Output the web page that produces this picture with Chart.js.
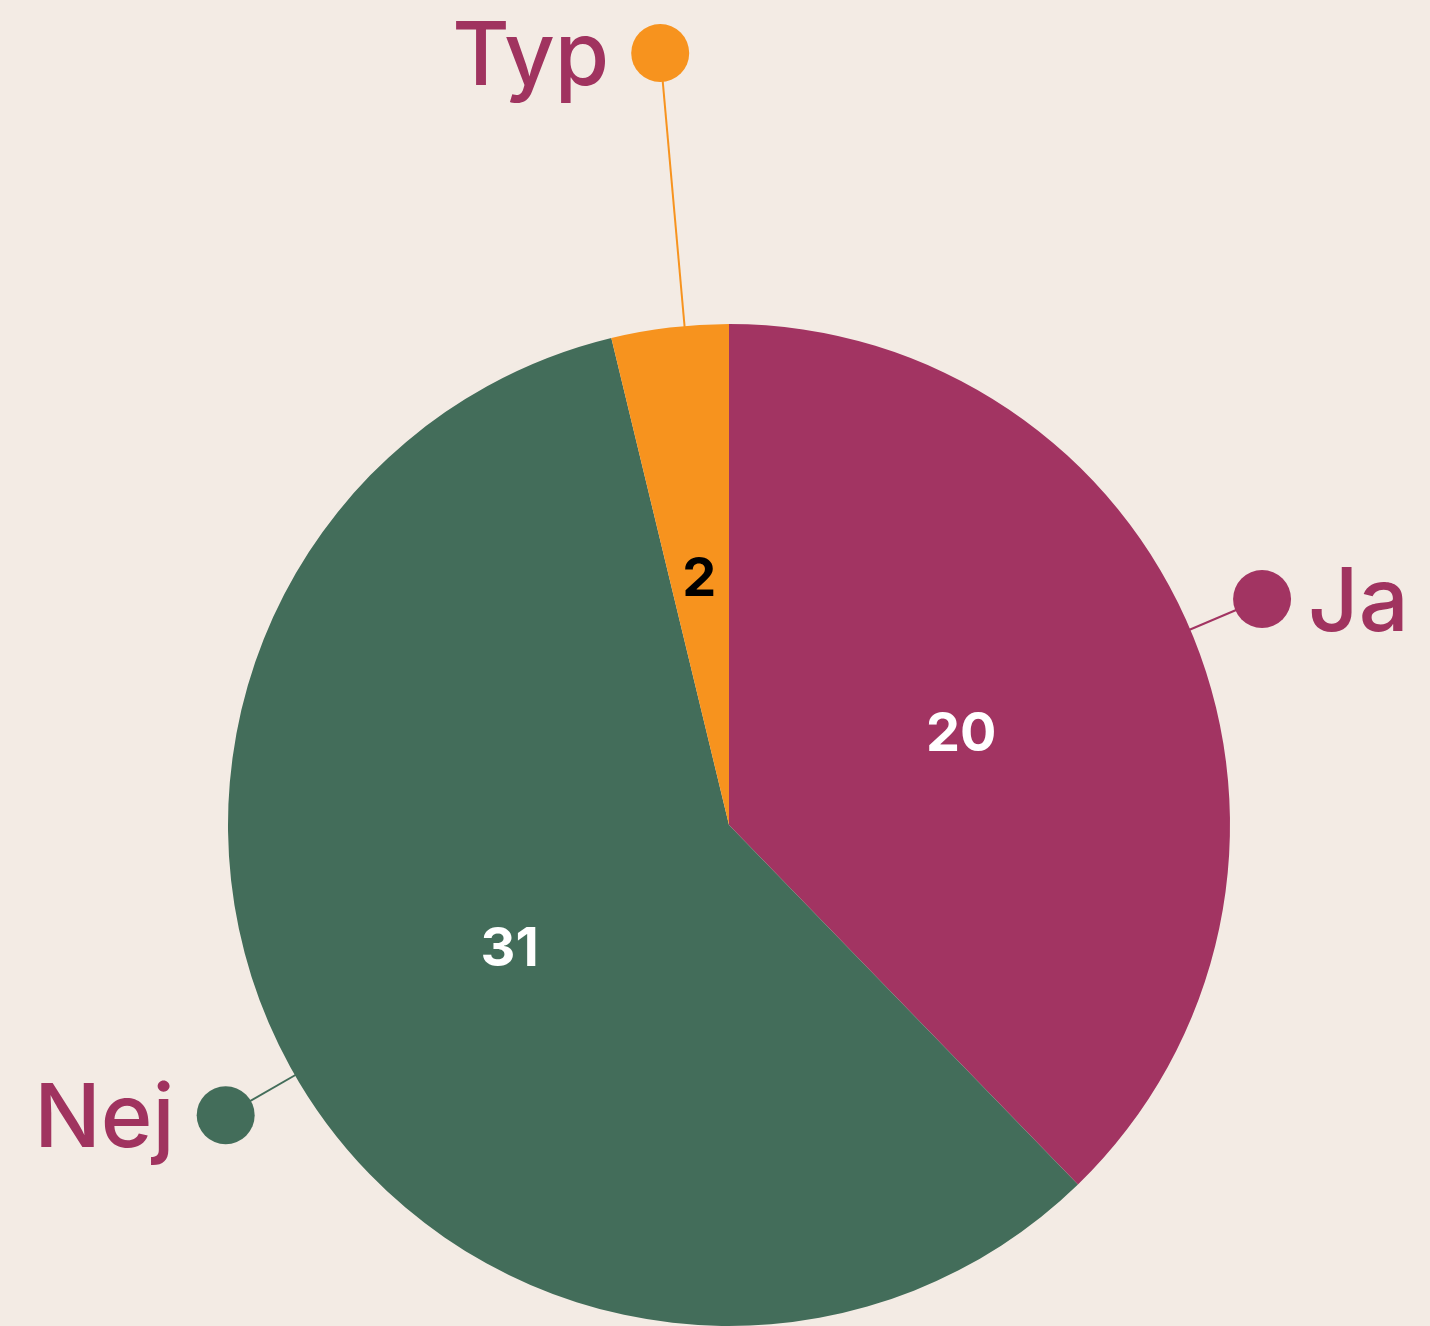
<!DOCTYPE html>
<html>
<head>
<meta charset="utf-8">
<script src="https://cdn.jsdelivr.net/npm/chart.js@4"></script>
<style>
  html, body { margin: 0; padding: 0; background: #f3ebe4; }
  #wrap { width: 1430px; height: 1326px; position: relative; }
</style>
</head>
<body>
<div id="wrap"><canvas id="pie"></canvas></div>
<script>
const labels = ["Ja", "Nej", "Typ"]
const values = [20, 31, 2]
const colors = ["#a23462", "#436d5a", "#f7931e"]
const valueColors = ["#ffffff", "#ffffff", "#000000"]

const labelColor = "#a0335f"
// leader line tweaks: extra length past the pie edge, and angle shift in degrees
const leaderLength = [78, 80, 274]
const leaderShift = [-0.9, -1.1, 1.7]

const calloutPlugin = {
  id: "callouts",
  afterDatasetsDraw(chart) {
    const ctx = chart.ctx
    const arcs = chart.getDatasetMeta(0).data
    ctx.save()
    arcs.forEach((arc, i) => {
      const { x, y, startAngle, endAngle, outerRadius } = arc.getProps(["x", "y", "startAngle", "endAngle", "outerRadius"], true)
      const mid = (startAngle + endAngle) / 2

      // value in the slice
      ctx.fillStyle = valueColors[i]
      ctx.font = "700 54px Inter"
      ctx.textAlign = "center"
      ctx.textBaseline = "middle"
      ctx.fillText(String(values[i]), x + Math.cos(mid) * outerRadius * 0.5, y + Math.sin(mid) * outerRadius * 0.5 + 4)

      // leader line + dot
      const a = mid + leaderShift[i] * Math.PI / 180
      const cos = Math.cos(a), sin = Math.sin(a)
      const r2 = outerRadius + leaderLength[i]
      const dx = x + cos * r2, dy = y + sin * r2
      ctx.strokeStyle = colors[i]
      ctx.lineWidth = 2
      ctx.beginPath()
      ctx.moveTo(x + cos * (outerRadius - 2), y + sin * (outerRadius - 2))
      ctx.lineTo(dx, dy)
      ctx.stroke()
      ctx.fillStyle = colors[i]
      ctx.beginPath()
      ctx.arc(dx, dy, 29, 0, Math.PI * 2)
      ctx.fill()

      // category name
      ctx.fillStyle = labelColor
      ctx.font = "500 88px Inter"
      ctx.textBaseline = "alphabetic"
      const right = cos > 0
      ctx.textAlign = right ? "left" : "right"
      ctx.fillText(labels[i], right ? dx + 46 : dx - 51, dy + 32)
    })
    ctx.restore()
  }
}

new Chart(document.getElementById("pie"), {
  type: "pie",
  data: {
    labels: labels,
    datasets: [{
      data: values,
      backgroundColor: colors,
      borderWidth: 0
    }]
  },
  options: {
    responsive: true,
    maintainAspectRatio: false,
    animation: false,
    layout: { padding: { top: 324, bottom: 0, left: 28, right: 0 } },
    plugins: {
      legend: { display: false },
      tooltip: { enabled: false }
    }
  },
  plugins: [calloutPlugin]
})
</script>
</body>
</html>
